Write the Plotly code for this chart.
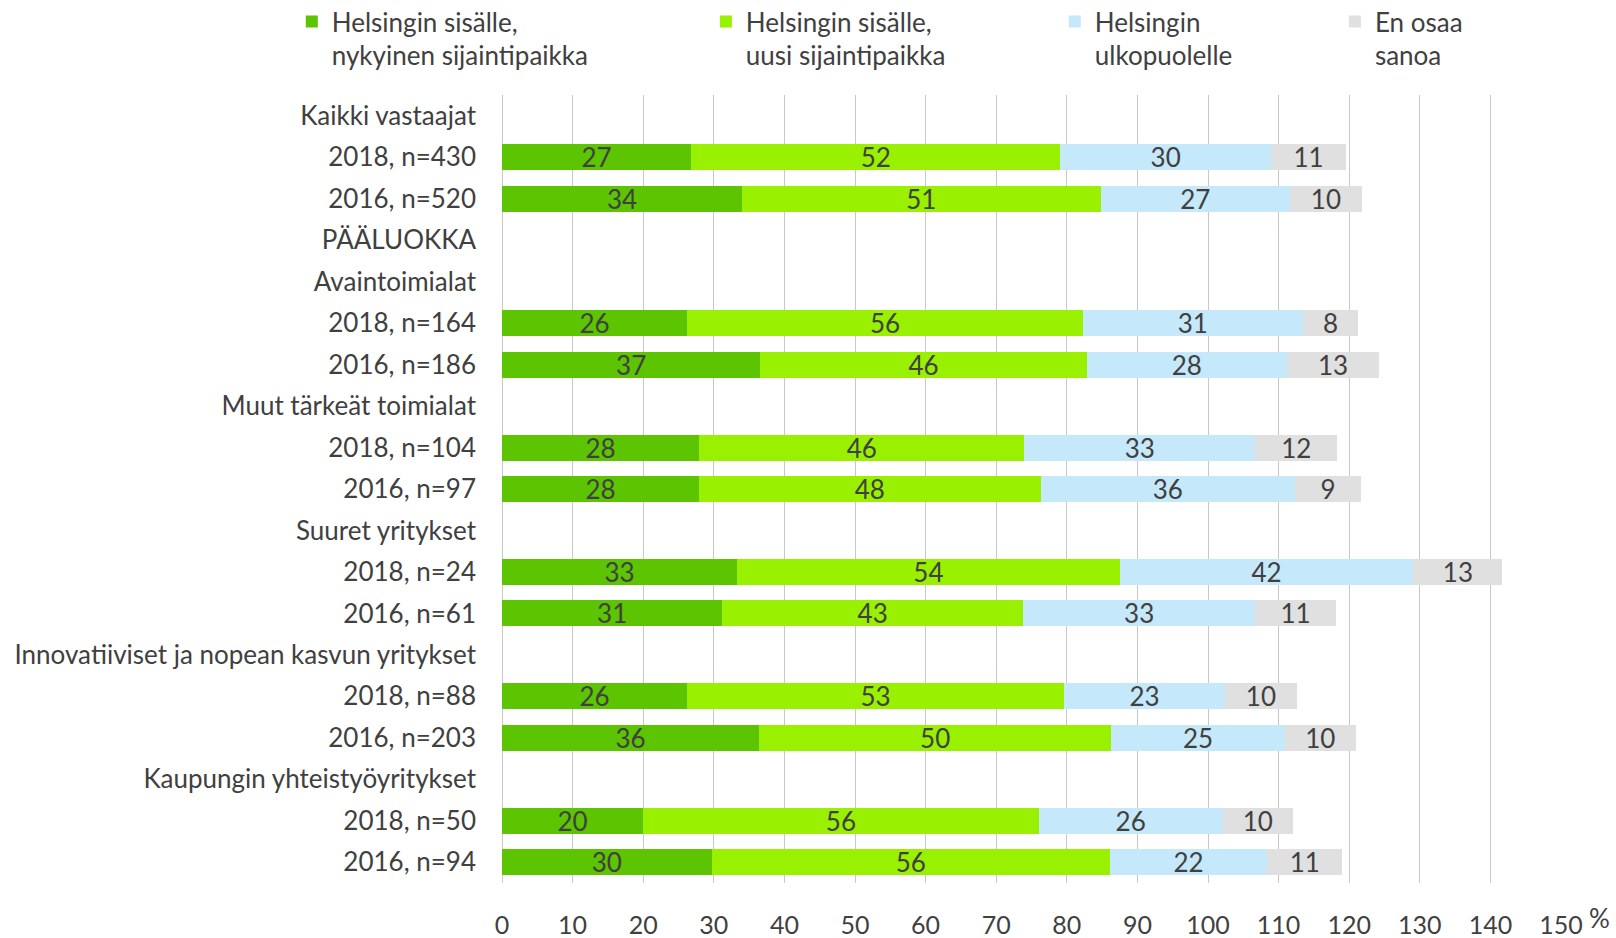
import plotly.graph_objects as go

categories = [
    "Kaikki vastaajat", "2018, n=430", "2016, n=520", "PÄÄLUOKKA",
    "Avaintoimialat", "2018, n=164", "2016, n=186",
    "Muut tärkeät toimialat", "2018, n=104", "2016, n=97",
    "Suuret yritykset", "2018, n=24", "2016, n=61",
    "Innovatiiviset ja nopean kasvun yritykset", "2018, n=88", "2016, n=203",
    "Kaupungin yhteistyöyritykset", "2018, n=50", "2016, n=94",
]

series_names = [
    "Helsingin sisälle,<br>nykyinen sijaintipaikka",
    "Helsingin sisälle,<br>uusi sijaintipaikka",
    "Helsingin<br>ulkopuolelle",
    "En osaa<br>sanoa",
]

nykyinen = [None, 26.8, 34.0, None, None, 26.2, 36.6, None, 27.9, 27.9,
            None, 33.3, 31.2, None, 26.2, 36.4, None, 20.0, 29.7]
uusi = [None, 52.3, 50.8, None, None, 56.1, 46.2, None, 46.1, 48.4,
        None, 54.2, 42.6, None, 53.4, 49.9, None, 56.0, 56.4]
ulkopuolelle = [None, 29.8, 26.8, None, None, 31.1, 28.4, None, 32.7, 36.0,
                None, 41.6, 32.9, None, 22.8, 24.6, None, 26.1, 22.3]
en_osaa = [None, 10.7, 10.2, None, None, 7.9, 13.0, None, 11.6, 9.4,
           None, 12.6, 11.4, None, 10.2, 10.0, None, 9.9, 10.6]

x_ticks = list(range(0, 151, 10))

colors = ["#5CC400", "#99F000", "#C5E8FA", "#E0E0E0"]
legends = ["legend", "legend2", "legend3", "legend4"]
legend_x = [-0.1985, 0.1925, 0.522, 0.7865]

FONT = "Lato, 'Open Sans', sans-serif"
TXT = "#404040"

fig = go.Figure()
for name, vals, col, lg in zip(series_names, [nykyinen, uusi, ulkopuolelle, en_osaa], colors, legends):
    fig.add_trace(go.Bar(
        y=categories, x=vals, name=name, orientation="h",
        marker=dict(color=col, line=dict(width=0)),
        text=[("" if v is None else f"{round(v):d}") for v in vals],
        textposition="inside", insidetextanchor="middle",
        textangle=0, constraintext="none",
        textfont=dict(family=FONT, size=26, color=TXT),
        hoverinfo="x+y+name",
        legend=lg,
    ))

layout_legends = {}
for lg, lx in zip(legends, legend_x):
    layout_legends[lg] = dict(
        x=lx, y=1.123, xanchor="left", yanchor="top",
        orientation="h", valign="top",
        font=dict(family=FONT, size=26, color=TXT),
        bgcolor="rgba(0,0,0,0)", itemwidth=30,
    )

fig.update_layout(
    width=1616, height=938,
    barmode="stack", bargap=0.373,
    plot_bgcolor="white", paper_bgcolor="white",
    margin=dict(l=502, r=55, t=95, b=55, autoexpand=False),
    font=dict(family=FONT, size=26, color=TXT),
    showlegend=True,
    **layout_legends,
)
fig.update_xaxes(
    range=[0, 150], tickvals=x_ticks, ticktext=[str(t) for t in x_ticks],
    showgrid=True, gridcolor="#C8C8C8", gridwidth=1,
    zeroline=True, zerolinecolor="#C8C8C8", zerolinewidth=1,
    showline=False, ticks="", ticklabelstandoff=25, automargin=False,
    tickfont=dict(family=FONT, size=25, color=TXT),
)
fig.update_yaxes(
    categoryorder="array", categoryarray=categories, autorange="reversed",
    showgrid=False, showline=False, ticks="", ticklabelstandoff=25,
    automargin=False,
    tickfont=dict(family=FONT, size=26, color=TXT),
)
fig.add_annotation(
    text="%", xref="paper", yref="paper", x=1.025, y=-0.044,
    xanchor="left", yanchor="middle", showarrow=False,
    font=dict(family=FONT, size=26, color=TXT),
)

fig.write_html(
    "out.html",
    config={"displayModeBar": False},
    post_script="document.body.style.margin='0';document.body.style.overflow='hidden';",
)
